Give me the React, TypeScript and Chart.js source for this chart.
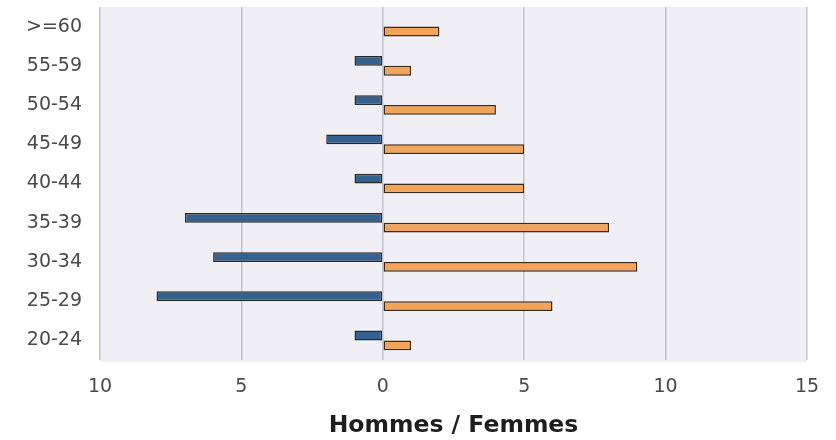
import React, { useEffect, useRef } from "react";
import { Chart, registerables } from "chart.js";

Chart.register(...registerables);

const ageGroups = [">=60", "55-59", "50-54", "45-49", "40-44", "35-39", "30-34", "25-29", "20-24"];
const hommes = [0, -1, -1, -2, -1, -7, -6, -8, -1];
const femmes = [2, 1, 4, 5, 5, 8, 9, 6, 1];
const axisTitle = "Hommes / Femmes";

const plotBg = {
  id: "plotBg",
  beforeDraw(chart: any) {
    const { ctx, chartArea } = chart;
    if (!chartArea) return;
    ctx.save();
    ctx.fillStyle = "#efeff5";
    ctx.fillRect(chartArea.left, chartArea.top, chartArea.right - chartArea.left, chartArea.bottom - chartArea.top + 2);
    ctx.restore();
  },
};

export default function App() {
  const ref = useRef<HTMLCanvasElement | null>(null);
  useEffect(() => {
    if (!ref.current) return;
    const chart = new Chart(ref.current, {
      type: "bar",
      data: {
        labels: ageGroups,
        datasets: [
          {
            label: "Hommes",
            data: hommes,
            backgroundColor: "#35618f",
            borderColor: "#2a2a2a",
            borderWidth: 1.5,
            borderSkipped: false,
          },
          {
            label: "Femmes",
            data: femmes,
            backgroundColor: "#f2a55a",
            borderColor: "#3a2a1a",
            borderWidth: 1.5,
            borderSkipped: false,
          },
        ],
      },
      options: {
        indexAxis: "y",
        animation: false,
        responsive: false,
        maintainAspectRatio: false,
        layout: { padding: { top: 7, right: 29, left: 0, bottom: 0 } },
        categoryPercentage: 0.5,
        barPercentage: 1,
        plugins: {
          legend: { display: false },
          tooltip: { enabled: false },
        },
        scales: {
          x: {
            min: -10,
            max: 15,
            ticks: {
              stepSize: 5,
              callback: (v: any) => String(Math.abs(Number(v))),
              color: "#4a4a4a",
              font: { family: "DejaVu Sans", size: 19 },
              padding: 16,
            },
            grid: { color: "#c4c4cc", lineWidth: 1.5, drawTicks: false },
            border: { display: false },
            title: {
              display: true,
              text: axisTitle,
              color: "#1e1e1e",
              font: { family: "DejaVu Sans", size: 23.5, weight: "bold" },
              padding: { top: 14, bottom: 0 },
            },
            afterFit: (scale: any) => {
              scale.height = 80;
            },
          },
          y: {
            ticks: {
              color: "#4a4a4a",
              font: { family: "DejaVu Sans", size: 19 },
              padding: 18,
            },
            grid: { display: false, drawTicks: false },
            border: { display: false },
            afterFit: (scale: any) => {
              scale.width = 100;
              scale.paddingTop = 0;
              scale.paddingBottom = 0;
            },
          },
        },
      } as any,
      plugins: [plotBg],
    });
    return () => chart.destroy();
  }, []);
  return (
    <div style={{ position: "fixed", left: 0, top: 0, width: 836, height: 440, background: "#fff" }}>
      <canvas ref={ref} width={836} height={440} style={{ width: 836, height: 440 }} />
    </div>
  );
}
